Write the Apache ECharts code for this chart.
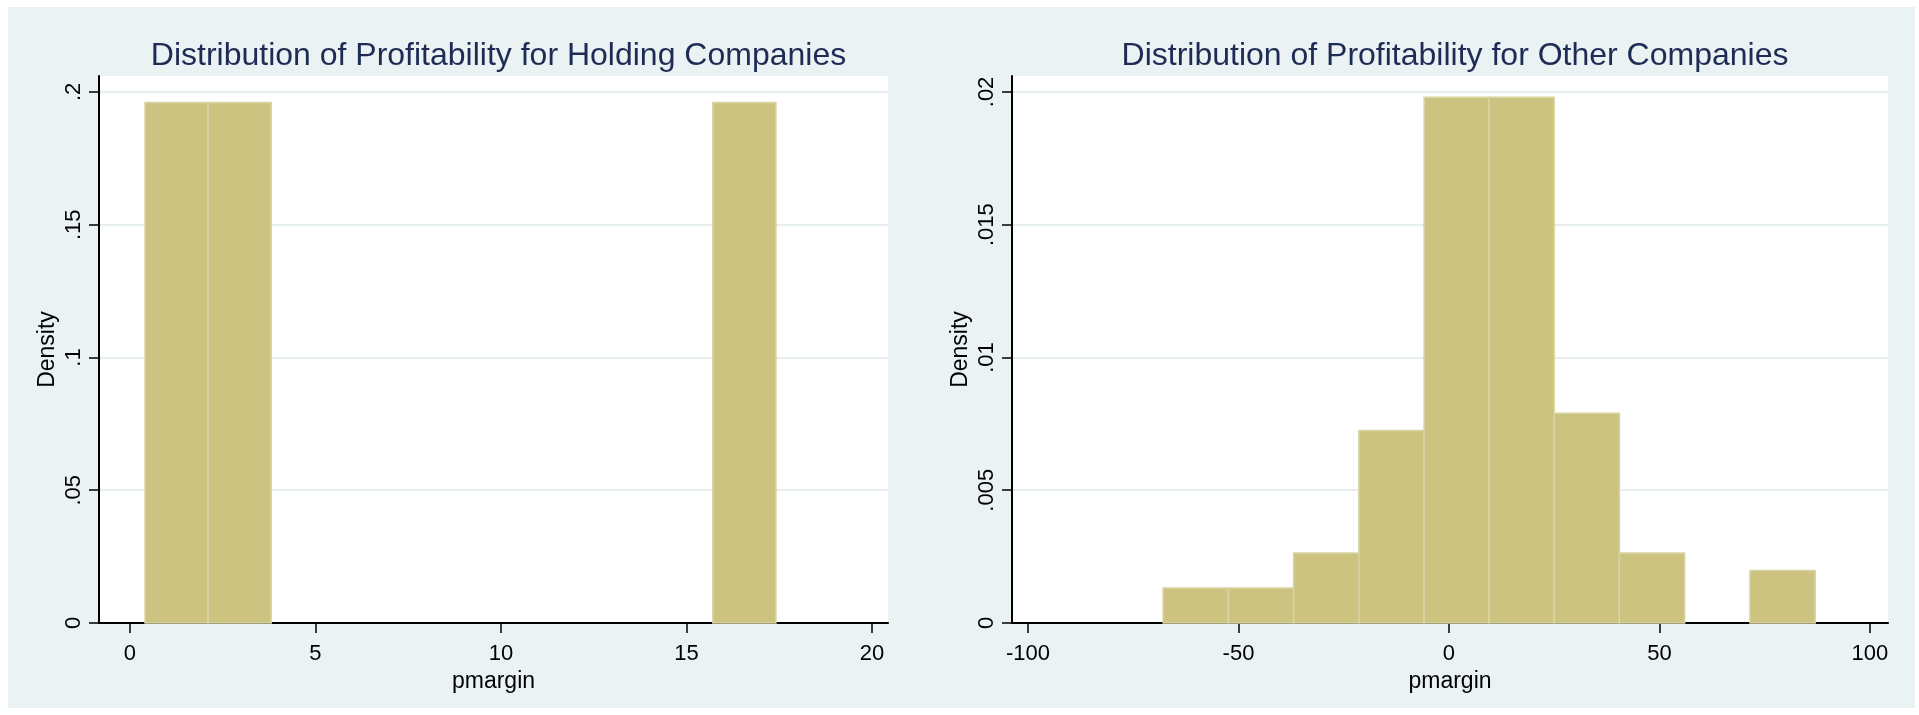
<!DOCTYPE html>
<html>
<head>
<meta charset="utf-8">
<title>Distribution of Profitability</title>
<script src="https://cdn.jsdelivr.net/npm/echarts@6/dist/echarts.min.js"></script>
<style>
  html, body { margin: 0; padding: 0; background: #ffffff; }
  #frame { position: absolute; left: 8px; top: 7px; width: 1907px; height: 701px; background: #EAF2F3; }
  #chart { position: absolute; left: 0; top: 0; width: 1919px; height: 715px; }
</style>
</head>
<body>
<div id="frame"></div>
<div id="chart"></div>
<script>
// Holding companies: histogram bins (lower edge, upper edge) and density
const holdingBinLow = [0.41, 2.11, 15.71];
const holdingBinHigh = [2.11, 3.81, 17.41];
const holdingDensity = [0.196, 0.196, 0.196];

// Other companies: bin edges and density per bin
const otherBinEdges = [-67.9, -52.4, -36.9, -21.4, -5.9, 9.55, 25.0, 40.5, 56.0, 71.5, 87.0];
const otherDensity = [0.00132, 0.00132, 0.00264, 0.00725, 0.0198, 0.0198, 0.0079, 0.00264, 0, 0.00198];

// Axis ticks
const holdingXTicks = [0, 5, 10, 15, 20];
const holdingYTicks = [0, 0.05, 0.1, 0.15, 0.2];
const otherXTicks = [-100, -50, 0, 50, 100];
const otherYTicks = [0, 0.005, 0.01, 0.015, 0.02];

const titles = [
  'Distribution of Profitability for Holding Companies',
  'Distribution of Profitability for Other Companies'
];

const FONT = "'Liberation Sans', Arial, Helvetica, sans-serif";
const BAR_FILL = '#CBC37F';
const BAR_EDGE = '#D9D4A4';
const GRID_COLOR = '#E6EEF0';

// Stata-style labels: drop the leading zero (0.05 -> .05)
function stripZero(v) {
  if (v === 0) return '0';
  return String(+v.toFixed(4)).replace(/^0\./, '.').replace(/^-0\./, '-.');
}

const holdingRows = holdingBinLow.map((lo, i) => [lo, holdingBinHigh[i], holdingDensity[i]]);
const otherRows = otherDensity.map((d, i) => [otherBinEdges[i], otherBinEdges[i + 1], d]);

function renderBin(params, api) {
  const lo = api.value(0), hi = api.value(1), h = api.value(2);
  if (!h) return null;
  const p0 = api.coord([lo, 0]);
  const p1 = api.coord([hi, h]);
  return {
    type: 'rect',
    shape: { x: p0[0], y: p1[1], width: p1[0] - p0[0], height: p0[1] - p1[1] },
    style: { fill: BAR_FILL, stroke: BAR_EDGE, lineWidth: 1.5 }
  };
}

const panels = [
  { left: 99, width: 789, xMin: -0.83, xMax: 20.43, yMax: 0.206, xTicks: holdingXTicks, yTicks: holdingYTicks, rows: holdingRows },
  { left: 1012, width: 876, xMin: -103.8, xMax: 104.3, yMax: 0.0206, xTicks: otherXTicks, yTicks: otherYTicks, rows: otherRows }
];

const axisText = { color: '#000000', fontFamily: FONT, fontSize: 22 };

const option = {
  backgroundColor: 'transparent',
  animation: false,
  title: panels.map((p, i) => ({
    text: titles[i],
    left: p.left + p.width / 2,
    top: 35,
    textAlign: 'center',
    textStyle: { color: '#1E2C55', fontFamily: FONT, fontSize: 32, fontWeight: 'normal' }
  })),
  grid: panels.map(p => ({
    left: p.left, top: 76, width: p.width, height: 547,
    show: true, backgroundColor: '#ffffff', borderWidth: 0, containLabel: false
  })),
  xAxis: panels.map((p, i) => ({
    type: 'value', gridIndex: i, min: p.xMin, max: p.xMax,
    name: 'pmargin', nameLocation: 'middle', nameGap: 40,
    nameTextStyle: { color: '#000000', fontFamily: FONT, fontSize: 23 },
    axisLine: { show: true, onZero: false, lineStyle: { color: '#000000', width: 2 } },
    axisTick: { show: true, length: 10, lineStyle: { color: '#000000', width: 1.5 }, customValues: p.xTicks },
    axisLabel: Object.assign({ margin: 20, customValues: p.xTicks, formatter: v => String(v) }, axisText),
    splitLine: { show: false }
  })),
  yAxis: panels.map((p, i) => ({
    type: 'value', gridIndex: i, min: 0, max: p.yMax,
    name: 'Density', nameLocation: 'middle', nameGap: 40,
    nameTextStyle: { color: '#000000', fontFamily: FONT, fontSize: 23 },
    axisLine: { show: true, onZero: false, lineStyle: { color: '#000000', width: 2 } },
    axisTick: { show: true, length: 10, lineStyle: { color: '#000000', width: 1.5 }, customValues: p.yTicks },
    axisLabel: Object.assign({ margin: 14, rotate: 90, customValues: p.yTicks, formatter: v => stripZero(v) }, axisText),
    splitLine: { show: true, lineStyle: { color: GRID_COLOR, width: 2 } }
  })),
  series: panels.map((p, i) => ({
    type: 'custom', xAxisIndex: i, yAxisIndex: i,
    renderItem: renderBin,
    encode: { x: [0, 1], y: 2 },
    data: p.rows,
    z: 3
  }))
};

const chart = echarts.init(document.getElementById('chart'), null, { renderer: 'canvas' });
chart.setOption(option);
</script>
</body>
</html>
